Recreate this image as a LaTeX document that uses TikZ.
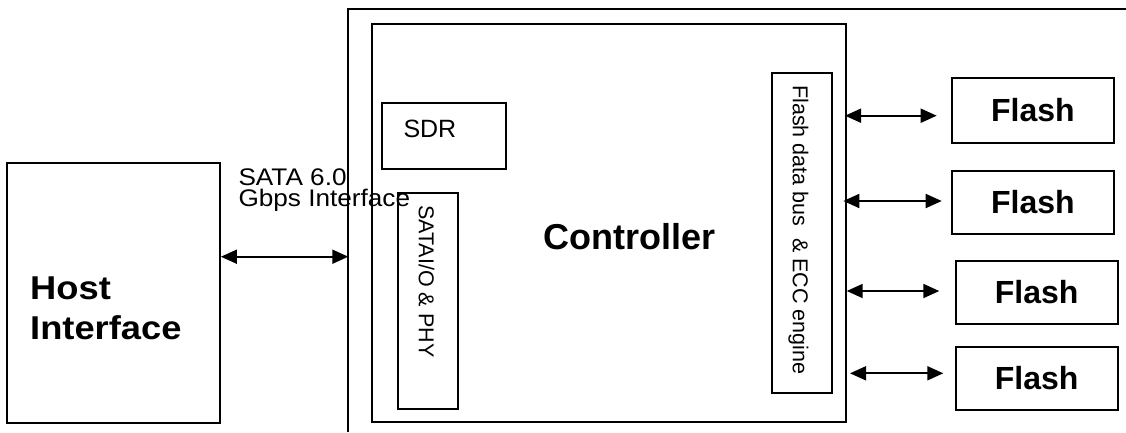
\documentclass[tikz,border=0pt]{standalone}
\usepackage{fontspec}
\setmainfont{Liberation Sans}
\usetikzlibrary{arrows.meta,fit}
\tikzset{
  box/.style={draw, line width=1.8pt, inner sep=0pt},
  lbl/.style={inner sep=0pt, font=\fontsize{21.5}{24}\selectfont},
  bigbold/.style={inner sep=0pt, font=\fontsize{32}{38}\selectfont\bfseries},
  link/.style={line width=1.8pt, {Triangle[length=16pt,width=14pt]}-{Triangle[length=16pt,width=14pt]}}
}
\begin{document}
\begin{tikzpicture}[x=1pt,y=-1pt]
\useasboundingbox (0,0) rectangle (1126,432);
% outer enclosure (cut by the picture edge)
\draw[line width=1.8pt] (348,432) -- (348,9) -- (1126,9);
% host
\node[box, fit={(7.3,163.3) (220,423.3)}] (host) {};
\node[anchor=north west, inner sep=0pt, align=left, font=\fontsize{33}{40}\selectfont\bfseries\addfontfeature{FakeStretch=1.1}] (hosttxt) at (30,276.7) {Host\\Interface};
% controller
\node[box, fit={(371.7,24) (846,421.7)}] (ctrl) {};
\node[inner sep=0pt, anchor=base, font=\fontsize{36}{40}\selectfont\bfseries] (ctrltxt) at (629.5,249.3) {Controller};
% SDR
\node[box, fit={(381.7,102.7) (506,168.7)}] (sdr) {};
\node[lbl, anchor=base west, font=\fontsize{25}{28}\selectfont] (sdrtxt) at (403.3,137.3) {SDR};
% SATA I/O
\node[box, fit={(397.7,192.7) (458,409)}] (sataio) {};
\node[lbl, rotate=-90, anchor=west] (sataiotxt) at (426.5,205) {SATAI/O \& PHY};
% flash data bus
\node[box, fit={(771.7,72.7) (832.3,393.3)}] (fbus) {};
\node[lbl, rotate=-90, anchor=west] (fbustxt) at (798.5,85) {Flash data bus \ \& ECC engine};
% flash chips
\node[box, fit={(951.7,78.3) (1114,142.7)}] (f1) {};
\node[box, fit={(951.7,170.7) (1114,234.3)}] (f2) {};
\node[box, fit={(955.7,260.7) (1117.7,324)}] (f3) {};
\node[box, fit={(955.7,346.7) (1117.7,410)}] (f4) {};
\node[bigbold] (f1txt) at (f1) {Flash};
\node[bigbold] (f2txt) at (f2) {Flash};
\node[bigbold] (f3txt) at (f3) {Flash};
\node[bigbold] (f4txt) at (f4) {Flash};
% SATA label and link
\node[anchor=north west, inner sep=0pt, align=left, font=\fontsize{24}{21}\selectfont\addfontfeature{FakeStretch=1.09}] (satalbl) at (238.3,168.3) {SATA 6.0\\Gbps Interface};
\coordinate (sataEnd) at (348.3,256.7);
\draw[link] (host.east |- sataEnd) -- (sataEnd);
% flash links
\coordinate (a1s) at (845,115.7);   \coordinate (a1e) at (936.7,115.7);
\coordinate (a2s) at (843.3,201);   \coordinate (a2e) at (941.7,201);
\coordinate (a3s) at (846.7,291);   \coordinate (a3e) at (939.3,291);
\coordinate (a4s) at (850,373.3);   \coordinate (a4e) at (943.3,373.3);
\draw[link] (a1s) -- (a1e);
\draw[link] (a2s) -- (a2e);
\draw[link] (a3s) -- (a3e);
\draw[link] (a4s) -- (a4e);
\end{tikzpicture}
\end{document}
